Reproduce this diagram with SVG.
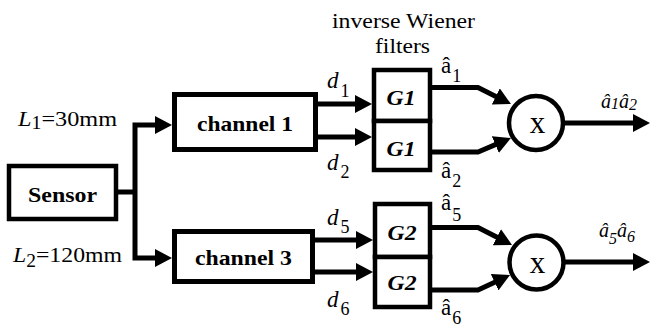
<svg xmlns="http://www.w3.org/2000/svg" width="652" height="327" viewBox="0 0 652 327">
<style>
.box{fill:#fff;stroke:#000;stroke-width:5}
.gbox{fill:#fff;stroke:#000;stroke-width:4.5}
.ring{fill:#fff;stroke:#000;stroke-width:4.5}
.wire{fill:none;stroke:#000;stroke-width:5;stroke-linejoin:miter}
.arr{marker-end:url(#ah)}
text{font-family:"Liberation Serif","Times New Roman",serif;fill:#000}
.lbl{font-size:22px}
.dl{font-size:23px}
.bold{font-size:22px;font-weight:bold}
.g{font-size:21px;font-weight:bold;font-style:italic}
.it{font-style:italic}
.sub{font-size:18px}
.mul{font-size:31px}
.prod{font-size:20px;font-style:italic}
.psub{font-size:16px}
</style>
<defs>
<marker id="ah" markerUnits="userSpaceOnUse" markerWidth="18" markerHeight="18" refX="9" refY="9" orient="auto">
<path d="M0,0 L17,9 L0,18 Z" fill="#000"/>
</marker>
</defs>
<rect width="652" height="327" fill="#fff"/>

<g id="connectors">
<path class="wire" d="M116,192 H135"/>
<path class="wire arr" d="M135,192 V125 H164"/>
<path class="wire arr" d="M135,192 V258 H164"/>
<path class="wire arr" d="M316,104 H364"/>
<path class="wire arr" d="M316,137 H364"/>
<path class="wire arr" d="M313,240 H365"/>
<path class="wire arr" d="M313,272 H365"/>
<path class="wire arr" d="M430,87.5 H478 L503.8,100.4"/>
<path class="wire arr" d="M430,152 H478 L503.6,141.1"/>
<path class="wire arr" d="M430,227.5 H478 L504.9,241.3"/>
<path class="wire arr" d="M430,290 H478 L502.8,278.4"/>
<path class="wire arr" d="M563,123 H642"/>
<path class="wire arr" d="M563,262 H642"/>
</g>

<g id="sensor">
<rect class="box" x="9" y="166" width="107" height="53" style="stroke-width:4.5"/>
<text class="bold" x="62.5" y="202" text-anchor="middle" textLength="69" lengthAdjust="spacingAndGlyphs">Sensor</text>
</g>
<g id="channel1">
<rect class="box" x="174.5" y="94.5" width="141" height="55"/>
<text class="bold" x="245" y="131" text-anchor="middle" textLength="96" lengthAdjust="spacingAndGlyphs">channel 1</text>
</g>
<g id="channel3">
<rect class="box" x="174.5" y="231.5" width="138" height="50"/>
<text class="bold" x="243.5" y="265" text-anchor="middle" textLength="97" lengthAdjust="spacingAndGlyphs">channel 3</text>
</g>
<g id="g1a">
<rect class="gbox" x="374" y="70" width="56" height="51"/>
<text class="g" x="401" y="105" text-anchor="middle" textLength="29" lengthAdjust="spacingAndGlyphs">G1</text>
</g>
<g id="g1b">
<rect class="gbox" x="374" y="121" width="56" height="49"/>
<text class="g" x="401" y="156" text-anchor="middle" textLength="29" lengthAdjust="spacingAndGlyphs">G1</text>
</g>
<g id="g2a">
<rect class="gbox" x="375" y="204" width="55" height="53"/>
<text class="g" x="402" y="240" text-anchor="middle" textLength="29" lengthAdjust="spacingAndGlyphs">G2</text>
</g>
<g id="g2b">
<rect class="gbox" x="375" y="257" width="55" height="50"/>
<text class="g" x="402" y="290" text-anchor="middle" textLength="29" lengthAdjust="spacingAndGlyphs">G2</text>
</g>
<g id="mult1">
<circle class="ring" cx="536" cy="123" r="27"/>
<text class="mul" x="537.5" y="133" text-anchor="middle">x</text>
</g>
<g id="mult2">
<circle class="ring" cx="536.5" cy="262.5" r="27"/>
<text class="mul" x="537.5" y="273" text-anchor="middle">x</text>
</g>

<g id="labels">
<text class="lbl" x="403.5" y="28" text-anchor="middle" textLength="143" lengthAdjust="spacingAndGlyphs">inverse Wiener</text>
<text class="lbl" x="402.5" y="53" text-anchor="middle" textLength="55" lengthAdjust="spacingAndGlyphs">filters</text>
<text class="lbl" x="18" y="126" textLength="99" lengthAdjust="spacingAndGlyphs"><tspan class="it">L</tspan><tspan class="sub" dy="3">1</tspan><tspan dy="-3">=30mm</tspan></text>
<text class="lbl" x="13" y="262" textLength="109" lengthAdjust="spacingAndGlyphs"><tspan class="it">L</tspan><tspan class="sub" dy="5">2</tspan><tspan dy="-5">=120mm</tspan></text>
<text class="dl" x="327" y="88"><tspan class="it">d</tspan><tspan class="sub" dx="2" dy="9">1</tspan></text>
<text class="dl" x="327" y="170"><tspan class="it">d</tspan><tspan class="sub" dx="2" dy="8">2</tspan></text>
<text class="dl" x="327" y="225"><tspan class="it">d</tspan><tspan class="sub" dx="2" dy="8">5</tspan></text>
<text class="dl" x="327" y="307"><tspan class="it">d</tspan><tspan class="sub" dx="2" dy="8">6</tspan></text>
<text class="dl" x="441" y="73">â<tspan class="sub" dx="1" dy="9">1</tspan></text>
<text class="dl" x="441" y="178">â<tspan class="sub" dx="1" dy="9">2</tspan></text>
<text class="dl" x="441" y="210">â<tspan class="sub" dx="1" dy="11">5</tspan></text>
<text class="dl" x="441" y="315">â<tspan class="sub" dx="1" dy="9">6</tspan></text>
<text class="prod" x="601" y="108">â<tspan class="psub" dy="1">1</tspan><tspan dy="-1">â</tspan><tspan class="psub" dy="2">2</tspan></text>
<text class="prod" x="599" y="237">â<tspan class="psub" dy="7">5</tspan><tspan dy="-7">â</tspan><tspan class="psub" dy="5">6</tspan></text>
</g>
</svg>
